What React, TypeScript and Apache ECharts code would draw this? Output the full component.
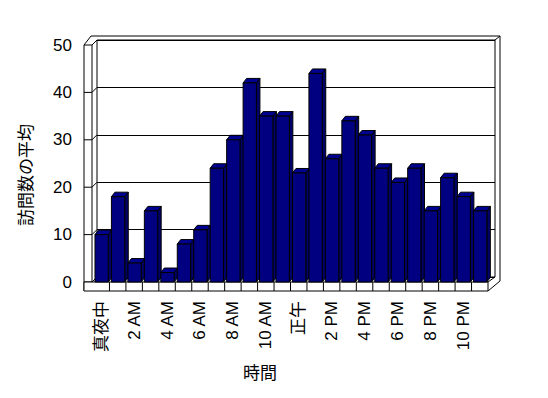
import React, { useEffect, useRef } from "react";
import * as echarts from "echarts";

const categories = [
  "真夜中", "1 AM", "2 AM", "3 AM", "4 AM", "5 AM", "6 AM", "7 AM", "8 AM", "9 AM", "10 AM", "11 AM",
  "正午", "1 PM", "2 PM", "3 PM", "4 PM", "5 PM", "6 PM", "7 PM", "8 PM", "9 PM", "10 PM", "11 PM",
];
const visits = [10, 18, 4, 15, 2, 8, 11, 24, 30, 42, 35, 35, 23, 44, 26, 34, 31, 24, 21, 24, 15, 22, 18, 15];
const yTicks = [0, 10, 20, 30, 40, 50];
const xTitle = "時間";
const yTitle = "訪問数の平均";

export default function App() {
  const ref = useRef<HTMLDivElement>(null);
  useEffect(() => {
    const chart = echarts.init(ref.current!, null, { renderer: "svg" });
    const font = "'Liberation Sans', 'Noto Sans CJK JP', sans-serif";
    const DX = 3.5;
    const DY = 4.5;
    chart.setOption({
      animation: false,
      backgroundColor: "#fff",
      textStyle: { fontFamily: font, color: "#000" },
      grid: [
        { left: 93, right: 60, top: 45, bottom: 116, show: false },
        {
          left: 97, right: 53, top: 40, bottom: 121, show: true,
          borderColor: "#000", borderWidth: 1, backgroundColor: "#fff", z: 0,
        },
      ],
      xAxis: [
        {
          type: "category", gridIndex: 0, data: categories,
          axisLine: { show: false }, axisTick: { show: false },
          axisLabel: { interval: 1, rotate: 90, margin: 19, fontSize: 17, color: "#000", fontFamily: font },
        },
        { type: "category", gridIndex: 1, data: categories, show: false },
      ],
      yAxis: [
        {
          type: "value", gridIndex: 0, min: 0, max: 50, interval: 10,
          axisLine: { show: false }, axisTick: { show: false }, splitLine: { show: false },
          axisLabel: { margin: 21, fontSize: 17, color: "#000", fontFamily: font },
        },
        {
          type: "value", gridIndex: 1, min: 0, max: 50, interval: 10,
          axisLine: { show: false }, axisTick: { show: false }, axisLabel: { show: false },
          splitLine: { show: true, lineStyle: { color: "#000", width: 1 } },
        },
      ],
      series: [
        {
          type: "custom",
          xAxisIndex: 0,
          yAxisIndex: 0,
          z: 5,
          data: visits.map((v, i) => [i, v]),
          renderItem: (params: any, api: any) => {
            const i = api.value(0);
            const v = api.value(1);
            const [cx, top] = api.coord([i, v]);
            const base = api.coord([i, 0])[1];
            const w = api.size([1, 0])[0];
            const x0 = cx - w / 2 + w * 0.12;
            const x1 = cx - w / 2 + w * 0.93;
            const st = { stroke: "#000", lineWidth: 1 };
            return {
              type: "group",
              children: [
                {
                  type: "polygon",
                  shape: { points: [[x1, base], [x1 + DX, base - DY], [x1 + DX, top - DY], [x1, top]] },
                  style: { fill: "#00006a", ...st },
                },
                {
                  type: "polygon",
                  shape: { points: [[x0, top], [x0 + DX, top - DY], [x1 + DX, top - DY], [x1, top]] },
                  style: { fill: "#000090", ...st },
                },
                {
                  type: "rect",
                  shape: { x: x0, y: top, width: x1 - x0, height: base - top },
                  style: { fill: "#000080", ...st },
                },
              ],
            };
          },
        },
      ],
    });

    const yf = (v: number) => chart.convertToPixel({ yAxisIndex: 0 }, v) as number;
    const yb = (v: number) => chart.convertToPixel({ yAxisIndex: 1 }, v) as number;
    const xc = (i: number) => chart.convertToPixel({ xAxisIndex: 0 }, i) as number;
    const slot = xc(1) - xc(0);
    const floorTop = yf(0);
    const floorBottom = floorTop + 9;
    const frontLeft = 84;
    const wallIn = 92;
    const backLeft = 97;
    const backRight = 495;
    const outerRight = 500;
    const backTop = yb(50);
    const outerTop = backTop - 4;
    const floorRight = xc(categories.length - 1) + slot / 2;
    const ls = { stroke: "#000", lineWidth: 1 };
    const line = (x1: number, y1: number, x2: number, y2: number) => ({
      type: "line", z: 1, shape: { x1, y1, x2, y2 }, style: ls, silent: true,
    });
    const els: any[] = [];
    // left wall / front axis
    els.push(line(frontLeft, yf(50), frontLeft, floorBottom));
    els.push(line(wallIn, yf(50), wallIn, floorTop));
    els.push(line(frontLeft, yf(50), frontLeft + 7, outerTop));
    els.push(line(frontLeft + 7, outerTop, outerRight, outerTop));
    els.push(line(backRight, backTop, outerRight, outerTop));
    els.push(line(outerRight, outerTop, outerRight, yb(0) + 4));
    els.push(line(outerRight, yb(0) + 4, floorRight, floorBottom));
    els.push(line(floorRight, floorTop, backRight, yb(0)));
    yTicks.forEach((t) => {
      els.push(line(frontLeft, yf(t), wallIn, yf(t)));
      els.push(line(wallIn, yf(t), backLeft, yb(t)));
    });
    // floor front strip
    els.push({
      type: "rect", z: 1, silent: true,
      shape: { x: frontLeft, y: floorTop, width: floorRight - frontLeft, height: floorBottom - floorTop },
      style: { fill: "#fff", stroke: "#000", lineWidth: 1 },
    });
    for (let k = 1; k < categories.length; k++) {
      const xb = xc(k) - slot / 2;
      els.push({ ...line(xb, floorTop, xb, floorBottom), z: 2 });
    }
    els.push({
      type: "text", z: 3, x: 260, y: 373,
      style: { text: xTitle, font: `17px ${font}`, fill: "#000", textAlign: "center", textVerticalAlign: "middle" },
    });
    els.push({
      type: "text", z: 3, x: 26, y: 175, rotation: Math.PI / 2,
      style: { text: yTitle, font: `17px ${font}`, fill: "#000", textAlign: "center", textVerticalAlign: "middle" },
    });
    chart.setOption({ graphic: { elements: els } });
    return () => chart.dispose();
  }, []);
  return (
    <div
      ref={ref}
      style={{ position: "fixed", left: 0, top: 0, width: 548, height: 398, background: "#fff" }}
    />
  );
}
